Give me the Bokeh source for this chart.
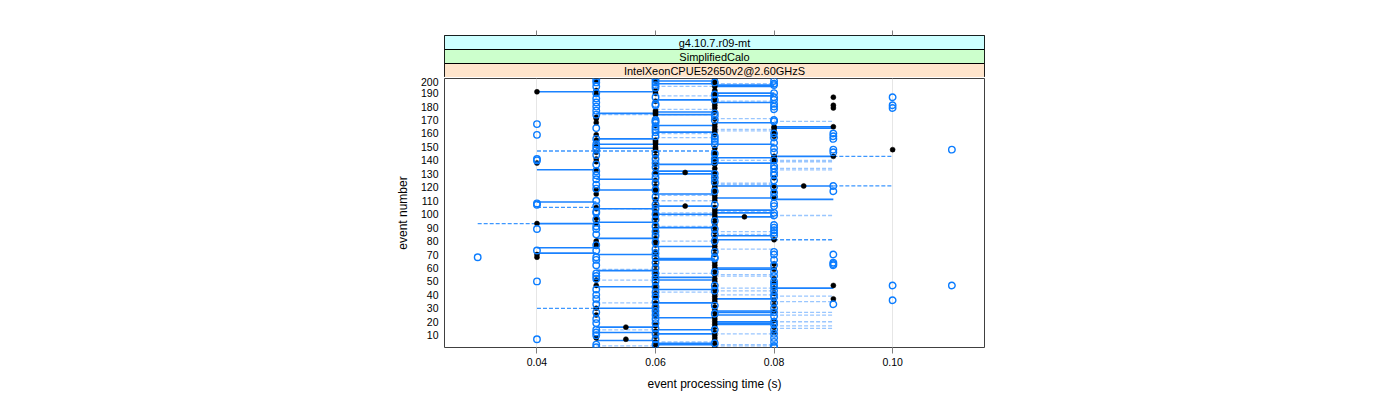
from bokeh.plotting import figure
from bokeh.models import FixedTicker, Range1d, ColumnDataSource, PrintfTickFormatter
from bokeh.layouts import column
from bokeh.embed import file_html
from bokeh.resources import INLINE
from bokeh.core.properties import value

# ---------------- data ----------------
TIME_TICKS = [0.04, 0.06, 0.08, 0.10]
EVENT_TICKS = list(range(10, 201, 10))
STRIP_LABELS = ["g4.10.7.r09-mt", "SimplifiedCalo", "IntelXeonCPUE52650v2@2.60GHzS"]
STRIP_COLORS = ["#ccffff", "#ccffcc", "#ffe5cc"]

# open circles (individual measurements): event numbers per processing time
open_t030 = [68]
open_t040 = [167, 159, 141, 140, 108, 107, 89, 73, 50, 7]
open_t050 = [200, 198, 195, 190, 186, 183, 180, 177, 174, 164, 156, 152, 150, 148, 144, 137,
             132, 129, 126, 122, 119, 110, 106, 102, 101, 96, 91, 89, 85, 77, 73, 68, 66, 62,
             56, 54, 52, 44, 40, 37, 33, 27, 22, 19, 14, 12, 10, 3, 1]
open_t060 = [200, 198, 196, 194, 187, 182, 181, 170, 169, 168, 165, 163, 161, 158, 145, 141,
             138, 135, 130, 127, 123, 118, 113, 107, 104, 100, 96, 91, 87, 84, 79, 74, 71, 68,
             64, 60, 56, 53, 50, 46, 42, 39, 35, 31, 28, 25, 22, 19, 15, 11, 7, 3]
open_t070 = [198, 189, 185, 175, 173, 170, 158, 156, 154, 152, 145, 141, 139, 130, 127, 124,
             117, 107, 95, 89, 85, 80, 72, 68, 67, 57, 47, 43, 32, 26, 14, 4]
open_t080 = [199, 197, 196, 190, 187, 185, 182, 180, 178, 170, 169, 160, 157, 153, 149, 146,
             140, 136, 134, 131, 129, 125, 120, 116, 113, 108, 106, 101, 99, 92, 90, 88, 86, 84,
             72, 70, 66, 62, 57, 54, 50, 48, 46, 43, 40, 38, 34, 30, 27, 24, 20, 18, 14, 11, 8,
             5, 2, 1]
open_t090 = [160, 158, 156, 148, 146, 121, 117, 70, 64, 63, 62, 33]
open_t100 = [187, 181, 179, 47, 36]
open_t110 = [148, 47]

# filled black dots (per-event summary): event numbers per processing time
dot_t040 = [191, 138, 93, 70, 68]
dot_t050 = [199, 192, 189, 172, 171, 168, 159, 155, 151, 146, 141, 139, 133, 118, 115, 105,
            104, 97, 93, 80, 78, 76, 51, 47, 30, 25, 8]
dot_t055 = [16, 7]
dot_t060 = [199, 192, 190, 184, 177, 176, 175, 174, 166, 155, 154, 153, 152, 150, 149, 148,
            147, 143, 137, 133, 131, 125, 121, 120, 119, 117, 116, 111, 110, 106, 102, 99, 98,
            97, 93, 89, 86, 82, 81, 80, 77, 72, 70, 66, 62, 58, 55, 52, 48, 45, 41, 38, 34, 33,
            30, 27, 24, 18, 17, 13, 9, 5, 2, 1]
dot_t065 = [131, 106]
dot_t070 = [200, 199, 197, 195, 192, 190, 188, 186, 183, 181, 179, 176, 171, 167, 165, 163,
            161, 159, 149, 146, 144, 142, 140, 137, 134, 131, 128, 125, 122, 120, 118, 116,
            114, 112, 110, 105, 103, 101, 99, 97, 94, 92, 90, 87, 83, 81, 78, 76, 74, 70, 64,
            62, 60, 58, 55, 52, 50, 46, 44, 41, 39, 37, 35, 31, 29, 27, 24, 22, 20, 18, 16, 12,
            10, 8, 6, 3, 1]
dot_t075 = [98]
dot_t080 = [165, 164, 162, 161, 159, 158, 143, 142, 141, 139, 127, 121, 117, 112, 81, 63, 59,
            52, 49, 45, 41, 36, 32, 28, 21, 16, 12]
dot_t085 = [121]
dot_t090 = [187, 181, 179, 165, 143, 47, 37]
dot_t100 = [148]

# solid ranges (event numbers per time span)
solid_040_050 = [133, 109, 93, 75, 71]
solid_040_060 = [191]
solid_050_060 = [175, 156, 152, 149, 126, 118, 104, 94, 82, 70, 58, 46, 30, 16, 12, 6]
solid_060_070 = [199, 197, 185, 176, 174, 166, 161, 152, 137, 132, 130, 115, 106, 100, 90, 76,
                 67, 66, 53, 51, 44, 34, 23, 14, 11, 4, 3]
solid_070_080 = [196, 195, 190, 188, 183, 168, 152, 142, 138, 121, 112, 103, 101, 98, 84, 81,
                 60, 59, 37, 28, 27, 25, 20, 19, 18]
solid_080_090 = [165, 164, 143, 121, 111, 45]

# dashed ranges, light
dash_050_060 = [174, 104, 59, 51, 34, 14, 2]
dash_060_070 = [195, 188, 178, 174, 160, 157, 114, 110, 101, 99, 91, 80, 56, 42, 5, 4]
dash_070_080 = [197, 184, 171, 163, 162, 140, 123, 122, 102, 87, 85, 74, 55, 54, 45, 43, 40,
                11, 3, 2]
dash_080_090 = [169, 140, 139, 134, 133, 99, 39, 35, 27, 25, 20, 17, 15]
# dashed ranges, medium
dashm_030_040 = [93]
dashm_040_050 = [105, 30]
dashm_040_070 = [147]
dashm_080_090 = [81]
dashm_090_100 = [143, 121]

# ---------------- helpers ----------------
def points(groups):
    xs, ys = [], []
    for t, evs in groups:
        xs += [t] * len(evs)
        ys += list(evs)
    return ColumnDataSource(dict(x=xs, y=ys))


def segments(groups):
    x0, x1, y = [], [], []
    for (a, b), evs in groups:
        for e in evs:
            x0.append(a); x1.append(b); y.append(e)
    return ColumnDataSource(dict(x0=x0, x1=x1, y=y))


open_src = points([(0.03, open_t030), (0.04, open_t040), (0.05, open_t050), (0.06, open_t060),
                   (0.07, open_t070), (0.08, open_t080), (0.09, open_t090), (0.10, open_t100),
                   (0.11, open_t110)])
dot_src = points([(0.04, dot_t040), (0.05, dot_t050), (0.055, dot_t055), (0.06, dot_t060),
                  (0.065, dot_t065), (0.07, dot_t070), (0.075, dot_t075), (0.08, dot_t080),
                  (0.085, dot_t085), (0.09, dot_t090), (0.10, dot_t100)])
solid_src = segments([((0.04, 0.05), solid_040_050), ((0.04, 0.06), solid_040_060),
                      ((0.05, 0.06), solid_050_060), ((0.06, 0.07), solid_060_070),
                      ((0.07, 0.08), solid_070_080), ((0.08, 0.09), solid_080_090)])
dash_src = segments([((0.05, 0.06), dash_050_060), ((0.06, 0.07), dash_060_070),
                     ((0.07, 0.08), dash_070_080), ((0.08, 0.09), dash_080_090)])
dashm_src = segments([((0.03, 0.04), dashm_030_040), ((0.04, 0.05), dashm_040_050),
                      ((0.04, 0.07), dashm_040_070), ((0.08, 0.09), dashm_080_090),
                      ((0.09, 0.10), dashm_090_100)])

FONT = "Liberation Sans"
W = 994
XR = Range1d(0.0244, 0.1155)

# ---------------- strips ----------------
s = figure(width=W, height=77, x_range=XR, y_range=Range1d(0, 3),
           output_backend="svg", toolbar_location=None, x_axis_location="above",
           min_border_left=444, min_border_right=10, min_border_top=35, min_border_bottom=0)
s.yaxis.visible = False
s.grid.visible = False
s.xaxis.ticker = FixedTicker(ticks=TIME_TICKS)
s.xaxis.major_label_text_color = None
s.xaxis.major_label_text_font_size = "1px"
s.xaxis.major_tick_out = 5
s.xaxis.major_tick_in = 0
s.xaxis.minor_tick_out = 0
s.xaxis.minor_tick_in = 0
s.xaxis.axis_line_color = None
s.xaxis.major_tick_line_color = "#808080"
s.outline_line_color = "black"
s.quad(left=XR.start, right=XR.end, bottom=[2, 1, 0], top=[3, 2, 1],
       fill_color=STRIP_COLORS, line_color="black", line_width=1)
s.text(x=(XR.start + XR.end) / 2, y=[2.5, 1.5, 0.5], text=STRIP_LABELS,
       text_align="center", text_baseline="middle",
       text_font=value(FONT), text_font_size="11px", text_color="black")

# ---------------- main panel ----------------
p = figure(width=W, height=316, x_range=XR, y_range=Range1d(0.85, 200.9),
           output_backend="svg", toolbar_location=None,
           min_border_left=444, min_border_right=10, min_border_top=1, min_border_bottom=45)
p.outline_line_color = "#404040"
p.xgrid.grid_line_color = "#e6e6e6"
p.ygrid.grid_line_color = None

p.xaxis.ticker = FixedTicker(ticks=TIME_TICKS)
p.xaxis.formatter = PrintfTickFormatter(format="%.2f")
p.xaxis.axis_line_color = None
p.xaxis.major_tick_out = 6
p.xaxis.major_tick_in = 0
p.xaxis.minor_tick_out = 0
p.xaxis.minor_tick_in = 0
p.xaxis.major_tick_line_color = "#808080"
p.xaxis.major_label_text_font = FONT
p.xaxis.major_label_text_font_size = "10.5px"
p.xaxis.major_label_text_color = "black"
p.xaxis.major_label_standoff = 4
p.xaxis.axis_label = "event processing time (s)"
p.xaxis.axis_label_text_font = FONT
p.xaxis.axis_label_text_font_size = "12px"
p.xaxis.axis_label_text_font_style = "normal"
p.xaxis.axis_label_text_color = "black"
p.xaxis.axis_label_standoff = 8

p.yaxis.ticker = FixedTicker(ticks=EVENT_TICKS)
p.yaxis.axis_line_color = None
p.yaxis.major_tick_out = 0
p.yaxis.major_tick_in = 0
p.yaxis.minor_tick_out = 0
p.yaxis.minor_tick_in = 0
p.yaxis.major_label_text_font = FONT
p.yaxis.major_label_text_font_size = "10.5px"
p.yaxis.major_label_text_color = "black"
p.yaxis.major_label_standoff = 6
p.yaxis.axis_label = "event number"
p.yaxis.axis_label_text_font = FONT
p.yaxis.axis_label_text_font_size = "12px"
p.yaxis.axis_label_text_font_style = "normal"
p.yaxis.axis_label_text_color = "black"
p.yaxis.axis_label_standoff = 8

p.segment(x0="x0", y0="y", x1="x1", y1="y", source=dash_src,
          line_color="#99c6ff", line_width=1.3, line_dash="4 2")
p.segment(x0="x0", y0="y", x1="x1", y1="y", source=dashm_src,
          line_color="#3d97ff", line_width=1.3, line_dash="4 2")
p.segment(x0="x0", y0="y", x1="x1", y1="y", source=solid_src,
          line_color="#1a82ff", line_width=1.6)
p.scatter(x="x", y="y", source=dot_src, marker="circle", size=5,
          fill_color="black", line_color="black", line_width=0.5)
p.scatter(x="x", y="y", source=open_src, marker="circle", size=6.5,
          fill_color=None, line_color="#0a7cff", line_width=1.4)

layout = column(s, p, spacing=0)
open("out.html", "w").write(file_html(layout, INLINE))
